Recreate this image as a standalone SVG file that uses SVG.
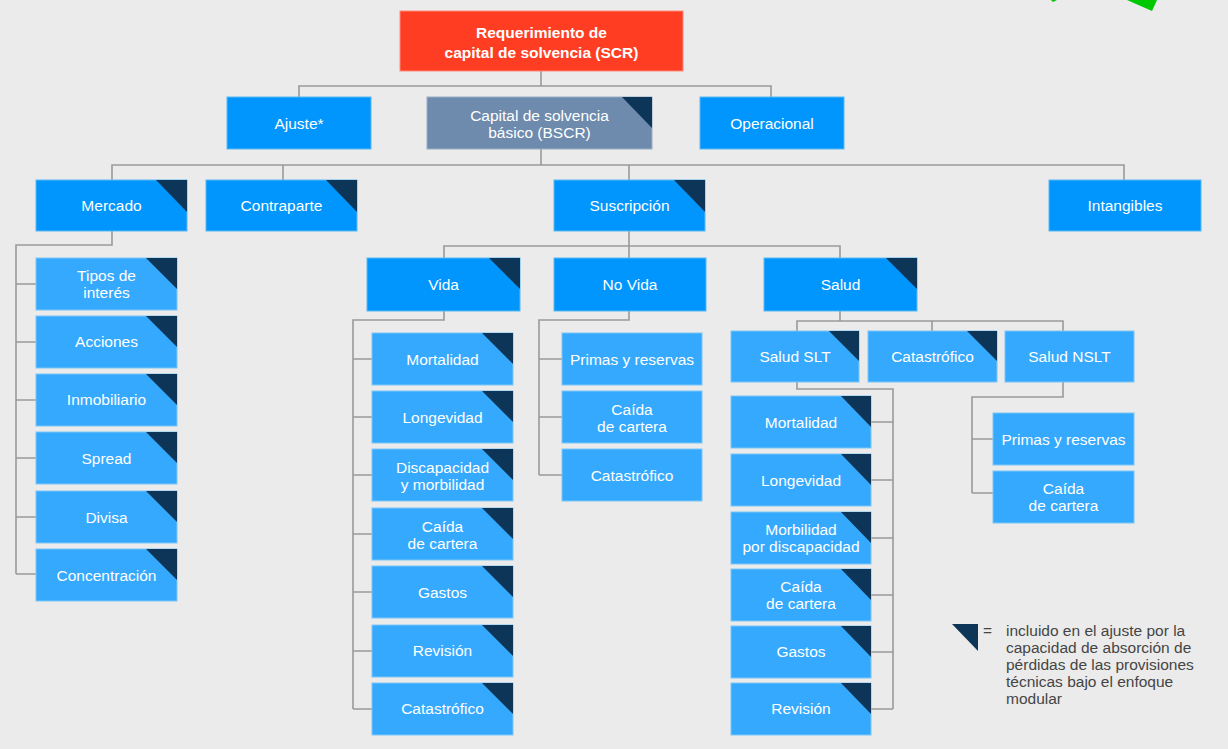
<svg xmlns="http://www.w3.org/2000/svg" width="1228" height="749" viewBox="0 0 1228 749">
<style>
.bg{fill:#ebebeb}
.n1{fill:#0096fd;stroke:#5cb8f5;stroke-width:1}
.n2{fill:#35a9fd;stroke:#7cc6f7;stroke-width:1}
.nb{fill:#6e8bad;stroke:#98aec6;stroke-width:1}
.nr{fill:#ff3d22;stroke:#ff8a78;stroke-width:1}
.tri{fill:#0d3558}
.t{font-family:"Liberation Sans",Arial,sans-serif;font-size:15.5px;fill:#ffffff;text-anchor:middle}
.tb{font-weight:bold}
.c{fill:none;stroke:#9a9a9a;stroke-width:1.6}
.lg{font-family:"Liberation Sans",Arial,sans-serif;font-size:15.5px;fill:#454545}
</style>
<rect class="bg" x="0" y="0" width="1228" height="749"/>
<polygon points="1127,0 1157,0 1152,11" fill="#00c800"/>
<polygon points="1051,0 1057,0 1053,2" fill="#00c800"/>

<g id="connectors">
<path class="c" d="M541,71 V86 M299,97 V86 H771 V97"/>
<path class="c" d="M541,149 V165 M112,180 V165 H1124 V180 M283,165 V180 M629,165 V180"/>
<path class="c" d="M112,231 V245 H16 V574 M16,284 H36 M16,342 H36 M16,400 H36 M16,458 H36 M16,517 H36 M16,574 H36"/>
<path class="c" d="M629,231 V246 M444,258 V246 H840 V258 M629,246 V258"/>
<path class="c" d="M444,311 V320 H353 V709 M353,359 H372 M353,417 H372 M353,475 H372 M353,534 H372 M353,592 H372 M353,651 H372 M353,709 H372"/>
<path class="c" d="M629,311 V320 H539 V475 M539,359 H562 M539,417 H562 M539,475 H562"/>
<path class="c" d="M840,311 V321 M797,331 V321 H1063 V331 M932,321 V331"/>
<path class="c" d="M797,382 V389 H893 V709 M871,422 H893 M871,480 H893 M871,538 H893 M871,595 H893 M871,652 H893 M871,709 H893"/>
<path class="c" d="M1063,382 V397 H972 V493 M972,439 H993 M972,493 H993"/>
</g>

<g id="scr"><rect class="nr" x="400" y="11" width="283" height="60"/>
<text class="t tb" x="541.5" y="37.5">Requerimiento de</text>
<text class="t tb" x="541.5" y="57.5">capital de solvencia (SCR)</text></g>

<g id="ajuste"><rect class="n1" x="227" y="97" width="144" height="52"/>
<text class="t" x="299" y="128.5">Ajuste*</text></g>
<g id="bscr"><rect class="nb" x="427" y="97" width="225" height="52"/>
<polygon class="tri" points="622,97 652,97 652,128"/>
<text class="t" x="539.5" y="120.5">Capital de solvencia</text>
<text class="t" x="539.5" y="137.5">básico (BSCR)</text></g>
<g id="operacional"><rect class="n1" x="700" y="97" width="144" height="52"/>
<text class="t" x="772" y="128.5">Operacional</text></g>

<g id="mercado"><rect class="n1" x="36" y="180" width="151" height="51"/>
<polygon class="tri" points="156,180 187,180 187,212"/>
<text class="t" x="111.5" y="211">Mercado</text></g>
<g id="contraparte"><rect class="n1" x="206" y="180" width="151" height="51"/>
<polygon class="tri" points="326,180 357,180 357,212"/>
<text class="t" x="281.5" y="211">Contraparte</text></g>
<g id="suscripcion"><rect class="n1" x="554" y="180" width="151" height="51"/>
<polygon class="tri" points="674,180 705,180 705,212"/>
<text class="t" x="629.5" y="211">Suscripción</text></g>
<g id="intangibles"><rect class="n1" x="1049" y="180" width="152" height="51"/>
<text class="t" x="1125" y="211">Intangibles</text></g>

<g id="m-tipos"><rect class="n2" x="36" y="258" width="141" height="52"/>
<polygon class="tri" points="146,258 177,258 177,289"/>
<text class="t" x="106.5" y="281">Tipos de</text>
<text class="t" x="106.5" y="298">interés</text></g>
<g id="m-acciones"><rect class="n2" x="36" y="316" width="141" height="52"/>
<polygon class="tri" points="146,316 177,316 177,347"/>
<text class="t" x="106.5" y="347">Acciones</text></g>
<g id="m-inmob"><rect class="n2" x="36" y="374" width="141" height="52"/>
<polygon class="tri" points="146,374 177,374 177,405"/>
<text class="t" x="106.5" y="405">Inmobiliario</text></g>
<g id="m-spread"><rect class="n2" x="36" y="432" width="141" height="52"/>
<polygon class="tri" points="146,432 177,432 177,463"/>
<text class="t" x="106.5" y="464">Spread</text></g>
<g id="m-divisa"><rect class="n2" x="36" y="491" width="141" height="52"/>
<polygon class="tri" points="146,491 177,491 177,522"/>
<text class="t" x="106.5" y="523">Divisa</text></g>
<g id="m-conc"><rect class="n2" x="36" y="549" width="141" height="52"/>
<polygon class="tri" points="146,549 177,549 177,580"/>
<text class="t" x="106.5" y="580.5">Concentración</text></g>

<g id="vida"><rect class="n1" x="367" y="258" width="153" height="53"/>
<polygon class="tri" points="489,258 520,258 520,289"/>
<text class="t" x="443.5" y="290">Vida</text></g>
<g id="novida"><rect class="n1" x="554" y="258" width="152" height="53"/>
<text class="t" x="630" y="290">No Vida</text></g>
<g id="salud"><rect class="n1" x="764" y="258" width="153" height="53"/>
<polygon class="tri" points="886,258 917,258 917,289"/>
<text class="t" x="840.5" y="290">Salud</text></g>

<g id="v-mort"><rect class="n2" x="372" y="333" width="141" height="52"/>
<polygon class="tri" points="482,333 513,333 513,364"/>
<text class="t" x="442.5" y="364.5">Mortalidad</text></g>
<g id="v-long"><rect class="n2" x="372" y="391" width="141" height="52"/>
<polygon class="tri" points="482,391 513,391 513,422"/>
<text class="t" x="442.5" y="422.5">Longevidad</text></g>
<g id="v-disc"><rect class="n2" x="372" y="449" width="141" height="52"/>
<polygon class="tri" points="482,449 513,449 513,480"/>
<text class="t" x="442.5" y="472.5">Discapacidad</text>
<text class="t" x="442.5" y="489.5">y morbilidad</text></g>
<g id="v-caida"><rect class="n2" x="372" y="508" width="141" height="52"/>
<polygon class="tri" points="482,508 513,508 513,539"/>
<text class="t" x="442.5" y="531.5">Caída</text>
<text class="t" x="442.5" y="548.5">de cartera</text></g>
<g id="v-gastos"><rect class="n2" x="372" y="566" width="141" height="52"/>
<polygon class="tri" points="482,566 513,566 513,597"/>
<text class="t" x="442.5" y="597.5">Gastos</text></g>
<g id="v-rev"><rect class="n2" x="372" y="625" width="141" height="52"/>
<polygon class="tri" points="482,625 513,625 513,656"/>
<text class="t" x="442.5" y="656">Revisión</text></g>
<g id="v-cat"><rect class="n2" x="372" y="683" width="141" height="52"/>
<polygon class="tri" points="482,683 513,683 513,714"/>
<text class="t" x="442.5" y="714">Catastrófico</text></g>

<g id="nv-primas"><rect class="n2" x="562" y="333" width="140" height="52"/>
<text class="t" x="632" y="364.5">Primas y reservas</text></g>
<g id="nv-caida"><rect class="n2" x="562" y="391" width="140" height="52"/>
<text class="t" x="632" y="414.5">Caída</text>
<text class="t" x="632" y="431.5">de cartera</text></g>
<g id="nv-cat"><rect class="n2" x="562" y="449" width="140" height="52"/>
<text class="t" x="632" y="480.5">Catastrófico</text></g>

<g id="s-slt"><rect class="n2" x="731" y="331" width="128" height="51"/>
<polygon class="tri" points="829,331 859,331 859,361"/>
<text class="t" x="795" y="361.5">Salud SLT</text></g>
<g id="s-cat"><rect class="n2" x="868" y="331" width="129" height="51"/>
<polygon class="tri" points="967,331 997,331 997,361"/>
<text class="t" x="932.5" y="361.5">Catastrófico</text></g>
<g id="s-nslt"><rect class="n2" x="1005" y="331" width="129" height="51"/>
<text class="t" x="1069.5" y="361.5">Salud NSLT</text></g>

<g id="slt-mort"><rect class="n2" x="731" y="396" width="140" height="52"/>
<polygon class="tri" points="841,396 871,396 871,427"/>
<text class="t" x="801" y="427.5">Mortalidad</text></g>
<g id="slt-long"><rect class="n2" x="731" y="454" width="140" height="52"/>
<polygon class="tri" points="841,454 871,454 871,485"/>
<text class="t" x="801" y="485.5">Longevidad</text></g>
<g id="slt-morb"><rect class="n2" x="731" y="512" width="140" height="52"/>
<polygon class="tri" points="841,512 871,512 871,543"/>
<text class="t" x="801" y="535">Morbilidad</text>
<text class="t" x="801" y="552">por discapacidad</text></g>
<g id="slt-caida"><rect class="n2" x="731" y="569" width="140" height="52"/>
<polygon class="tri" points="841,569 871,569 871,600"/>
<text class="t" x="801" y="592">Caída</text>
<text class="t" x="801" y="609">de cartera</text></g>
<g id="slt-gastos"><rect class="n2" x="731" y="626" width="140" height="52"/>
<polygon class="tri" points="841,626 871,626 871,657"/>
<text class="t" x="801" y="657">Gastos</text></g>
<g id="slt-rev"><rect class="n2" x="731" y="683" width="140" height="52"/>
<polygon class="tri" points="841,683 871,683 871,714"/>
<text class="t" x="801" y="714">Revisión</text></g>

<g id="nslt-primas"><rect class="n2" x="993" y="413" width="141" height="52"/>
<text class="t" x="1063.5" y="444.5">Primas y reservas</text></g>
<g id="nslt-caida"><rect class="n2" x="993" y="471" width="141" height="52"/>
<text class="t" x="1063.5" y="494">Caída</text>
<text class="t" x="1063.5" y="511">de cartera</text></g>

<g id="legend">
<polygon class="tri" points="952,624 978,624 978,651"/>
<text class="lg" x="983" y="636">=</text>
<text class="lg" x="1006" y="636">incluido en el ajuste por la</text>
<text class="lg" x="1006" y="653">capacidad de absorción de</text>
<text class="lg" x="1006" y="670">pérdidas de las provisiones</text>
<text class="lg" x="1006" y="687">técnicas bajo el enfoque</text>
<text class="lg" x="1006" y="704">modular</text>
</g>
</svg>
